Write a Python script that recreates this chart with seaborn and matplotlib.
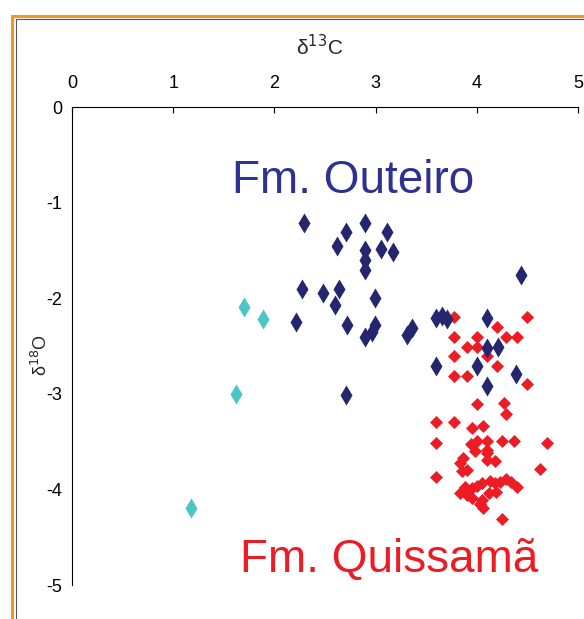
import matplotlib
matplotlib.use("Agg")
import matplotlib.pyplot as plt
from matplotlib.patches import Rectangle
import seaborn as sns
import pandas as pd

# d13C / d18O values
cyan_c13 = [1.70, 1.89, 1.62, 1.18]
cyan_o18 = [-2.09, -2.22, -3.00, -4.19]

outeiro_c13 = [2.29, 2.71, 2.90, 3.11, 2.62, 2.90, 3.05, 3.17, 2.90, 2.90,
               2.27, 2.48, 2.64, 2.60, 2.99, 2.21, 2.72, 2.99, 2.96, 2.90,
               2.71, 3.31, 3.36, 3.60, 3.66, 3.71, 4.10, 4.10, 4.21, 3.60,
               4.00, 4.39, 4.10, 4.44]
outeiro_o18 = [-1.21, -1.31, -1.21, -1.31, -1.45, -1.50, -1.49, -1.52, -1.60, -1.71,
               -1.90, -1.95, -1.90, -2.07, -2.00, -2.25, -2.28, -2.28, -2.35, -2.41,
               -3.01, -2.38, -2.31, -2.21, -2.19, -2.22, -2.21, -2.52, -2.51, -2.71,
               -2.71, -2.79, -2.92, -1.76]

quissama_c13 = [3.77, 4.20, 4.50, 3.77, 3.90, 4.00, 4.00, 4.29, 4.40, 3.77,
                4.10, 4.20, 3.77, 3.90, 4.50, 4.00, 4.27, 4.29, 3.60, 3.77,
                3.95, 4.06, 3.60, 4.00, 4.10, 4.25, 4.37, 4.69, 3.98, 4.10,
                4.10, 3.86, 4.18, 3.83, 3.90, 3.85, 4.62, 3.60,
                3.88, 3.95, 4.00, 4.05, 4.13, 4.18, 4.23, 4.29, 4.34, 4.40,
                3.83, 3.90, 3.95, 4.05, 4.12, 4.19, 4.25, 4.06, 4.03,
                4.10, 3.94]
quissama_o18 = [-2.20, -2.30, -2.20, -2.41, -2.51, -2.41, -2.51, -2.41, -2.41, -2.60,
                -2.60, -2.71, -2.81, -2.81, -2.90, -3.11, -3.10, -3.21, -3.30, -3.30,
                -3.36, -3.34, -3.51, -3.49, -3.49, -3.49, -3.49, -3.51, -3.60, -3.59,
                -3.69, -3.67, -3.70, -3.72, -3.80, -3.81, -3.79, -3.87,
                -3.97, -3.99, -3.96, -3.93, -3.91, -3.93, -3.92, -3.89, -3.92, -3.97,
                -4.04, -4.06, -4.09, -4.11, -4.04, -4.03, -4.31, -4.19, -4.15,
                -3.62, -3.52]

x_ticks = [0, 1, 2, 3, 4, 5]
y_ticks = [0, -1, -2, -3, -4, -5]

NAVY = "#25276E"
NAVY_TEXT = "#2E3192"
RED = "#ED1C24"
CYAN = "#4BC5C7"
ORANGE = "#F7941D"

sns.set_style("white")
plt.rcParams["font.family"] = ["Liberation Sans", "DejaVu Sans"]
plt.rcParams["axes.unicode_minus"] = False

fig = plt.figure(figsize=(5.84, 6.19), dpi=100)
W, H = 584, 619
ax = fig.add_axes([72 / W, 1 - 585 / H, (578 - 72) / W, (585 - 107) / H])

df_q = pd.DataFrame({"c13": quissama_c13, "o18": quissama_o18})
df_o = pd.DataFrame({"c13": outeiro_c13, "o18": outeiro_o18})
df_c = pd.DataFrame({"c13": cyan_c13, "o18": cyan_o18})

sns.scatterplot(data=df_q, x="c13", y="o18", marker="D", s=44, color=RED,
                linewidth=0, ax=ax, clip_on=False)
sns.scatterplot(data=df_o, x="c13", y="o18", marker="d", s=104, color=NAVY,
                linewidth=0, ax=ax, clip_on=False)
sns.scatterplot(data=df_c, x="c13", y="o18", marker="d", s=104, color=CYAN,
                linewidth=0, ax=ax, clip_on=False)

ax.set_xlim(0, 5)
ax.set_ylim(-5, 0)
ax.set_xticks(x_ticks)
ax.set_yticks(y_ticks)
ax.xaxis.tick_top()
ax.xaxis.set_label_position("top")
ax.tick_params(axis="x", direction="in", length=4, width=0.8, pad=11,
               labelsize=13, colors="black")
ax.tick_params(axis="y", direction="out", length=4, width=0.8, pad=3,
               labelsize=13, colors="black")

for side in ["right", "bottom"]:
    ax.spines[side].set_visible(False)
for side in ["top", "left"]:
    ax.spines[side].set_color("black")
    ax.spines[side].set_linewidth(0.8)

ax.set_xlabel("δ$^{13}$C", fontsize=15)
ax.xaxis.set_label_coords(0.49, 1 + (107 - 47) / 478)
ax.xaxis.label.set_va("center")
ax.set_ylabel("δ$^{18}$O", fontsize=13)
ax.yaxis.set_label_coords(-0.061, 0.48)
ax.yaxis.label.set_va("center")

ax.text(1.58, -0.90, "Fm. Outeiro", color=NAVY_TEXT, fontsize=33, va="baseline")
ax.text(1.66, -4.86, "Fm. Quissamã", color=RED, fontsize=33, va="baseline")

# frame around the figure (cut off at right and bottom)
fig.add_artist(Rectangle((11.5 / W, -0.1), 1.2, 1.1 - 15.5 / H,
                         transform=fig.transFigure, fill=False,
                         edgecolor=ORANGE, linewidth=2.2))
fig.add_artist(Rectangle((16 / W, -0.1), 1.2, 1.1 - 19.5 / H,
                         transform=fig.transFigure, fill=False,
                         edgecolor="#555555", linewidth=0.8))

fig.savefig("out.png", dpi=100)
